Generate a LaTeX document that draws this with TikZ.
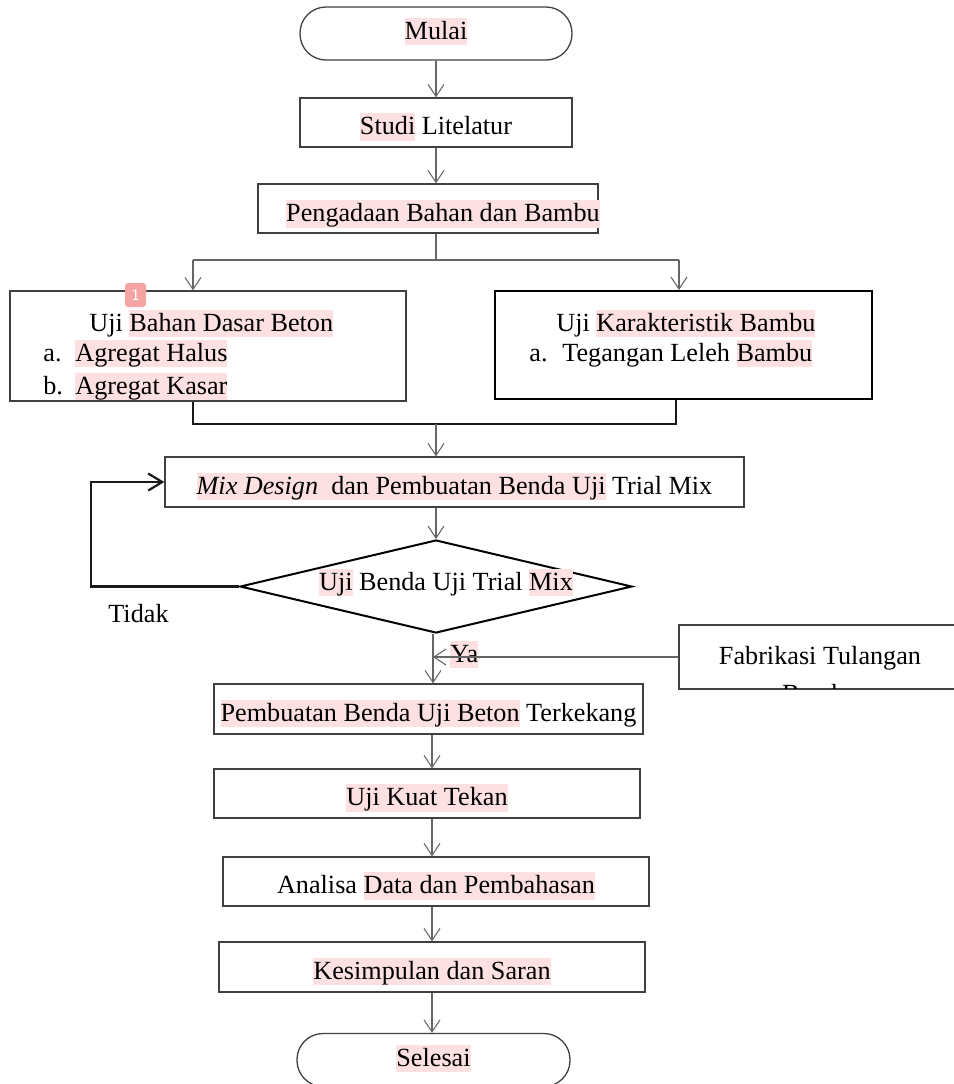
\documentclass[tikz,border=0pt]{standalone}
\usepackage{fontspec}
\setmainfont{Liberation Serif}
\usepackage{xcolor}
\usepackage{tikz}
\usetikzlibrary{arrows.meta,positioning,shapes.geometric}

\definecolor{hlpink}{RGB}{253,224,226}
\definecolor{notemark}{RGB}{246,163,163}
\newcommand{\hl}[1]{{\setlength{\fboxsep}{0pt}\colorbox{hlpink}{\rule[-0.22em]{0pt}{1.04em}#1}}}

\begin{document}
\begin{tikzpicture}[
  x=0.5pt, y=-0.5pt,
  font=\fontsize{13.1}{15.8}\selectfont,
  box/.style={draw=black!75, line width=0.65pt, inner sep=0pt, minimum height=24.5pt,
    text height=1.45em, text depth=0.22em},
  term/.style={box, rounded corners=13pt, minimum width=136pt, minimum height=26.5pt, text height=0.84em},
  decision/.style={diamond, draw=black, line width=1pt, inner sep=0pt, minimum width=196pt, minimum height=46.5pt},
  txt/.style={inner sep=0pt, anchor=base west},
  conn/.style={draw=black!60, line width=0.55pt, -{Straight Barb[length=6pt,width=8pt]}},
  link/.style={draw=black!60, line width=0.55pt},
  heavy/.style={draw=black!90, line width=1.1pt}
]
\useasboundingbox (0,0) rectangle (954,1084);
\clip (0,0) rectangle (954,1084);

% main column
\node[term] (mulai) at (436,33.5) {\hl{Mulai}};
\node[box, minimum width=136pt] (studi) at (436,122.5) {\hl{Studi} Litelatur};
\node[box, minimum width=170pt] (ada) at (428,208.5) {};
\node[inner sep=0pt] (adaT) at (443,214) {\hl{Pengadaan Bahan dan Bambu}};

% the two tests
\node[box, minimum width=198pt, minimum height=55pt] (ujibahan) at (208,346) {};
\node[txt] (bhn1) at (89,331.5) {Uji \hl{Bahan Dasar Beton}};
\node[txt] (bhn2) at (43,361.5) {\makebox[16pt][l]{a.}\hl{Agregat Halus}};
\node[txt] (bhn3) at (43,394.5) {\makebox[16pt][l]{b.}\hl{Agregat Kasar}};
\node[fill=notemark, rounded corners=1.5pt, minimum width=10.5pt, minimum height=12pt, inner sep=0pt,
  text=white, font=\fontsize{8}{9}\sffamily] (note1) at (135.5,295) {1};

\node[box, draw=black, line width=1pt, minimum width=188.5pt, minimum height=54pt] (ujibambu) at (683.5,345) {};
\node[txt] (bmb1) at (556,331) {Uji \hl{Karakteristik Bambu}};
\node[txt] (bmb2) at (529,361) {\makebox[16.5pt][l]{a.}Tegangan Leleh \hl{Bambu}};

% trial mix
\node[box, minimum width=289.5pt, minimum height=25pt] (mix) at (454.5,482)
  {\hl{\textit{Mix Design}\ \ dan Pembuatan Benda Uji} Trial Mix};
\node[decision] (cek) at (436,586.5) {};
\node[inner sep=0pt] (cekT) at (446,582.5) {\hl{Uji} Benda Uji Trial \hl{Mix}};
\node[txt] (tidak) at (108,622) {Tidak};
\node[txt] (yaT) at (450,662) {\hl{Ya}};

% side input
\node[box, minimum width=141.5pt, minimum height=32pt] (fab) at (820.5,657) {};
\node[txt, anchor=base] (fab1) at (820,664) {Fabrikasi Tulangan};
\begin{scope}
  \clip (679,626) rectangle (954,688);
  \node[txt, anchor=base] (fab2) at (820,702) {Bambu};
\end{scope}

\node[box, minimum width=214.5pt, minimum height=25pt] (buat) at (428.5,709) {\hl{Pembuatan Benda Uji Beton} Terkekang};
\node[box, minimum width=213pt] (kuat) at (427,793.5) {\hl{Uji Kuat Tekan}};
\node[box, minimum width=213pt] (analisa) at (436,881.5) {Analisa \hl{Data dan Pembahasan}};
\node[box, minimum width=213pt, minimum height=25pt] (simpul) at (432,967) {\hl{Kesimpulan dan Saran}};
\node[term, minimum width=136.5pt] (selesai) at (433.5,1060) {\hl{Selesai}};

% connectors
\coordinate (splitL) at (193,260);
\coordinate (splitR) at (679,260);
\coordinate (mergeL) at (193,424);
\coordinate (mergeR) at (676,424);
\coordinate (merge) at (436,424);
\coordinate (yaJ) at (433,657);
\coordinate (spine) at (432,0);

\draw[conn] (mulai) -- (studi);
\draw[conn] (studi.south) -- (studi.south |- ada.north);
\draw[link] (studi.south |- ada.south) -- (studi.south |- splitL);
\draw[link] (splitL) -- (splitR);
\draw[conn] (splitL) -- (splitL |- ujibahan.north);
\draw[conn] (splitR) -- (splitR |- ujibambu.north);
\draw[heavy] (mergeL |- ujibahan.south) -- (mergeL) -- (mergeR) -- (mergeR |- ujibambu.south);
\draw[conn] (merge) -- (merge |- mix.north);
\draw[conn] (merge |- mix.south) -- (cek.north);
\draw[heavy, -{Straight Barb[length=7pt,width=8.5pt]}] (cek.west) -- ++(-148,0) |- (mix.west);
\draw[conn] (cek.south -| yaJ) -- (yaJ |- buat.north);
\draw[conn] (fab.west) -- (yaJ);
\draw[conn] (spine |- buat.south) -- (spine |- kuat.north);
\draw[conn] (spine |- kuat.south) -- (spine |- analisa.north);
\draw[conn] (spine |- analisa.south) -- (spine |- simpul.north);
\draw[conn] (spine |- simpul.south) -- (spine |- selesai.north);
\end{tikzpicture}
\end{document}
